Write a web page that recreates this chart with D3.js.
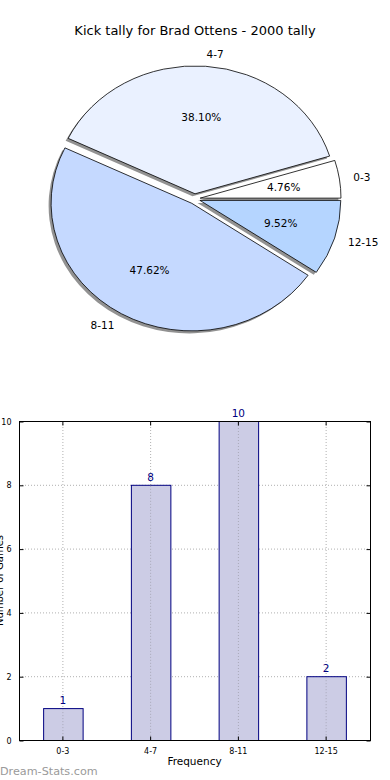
<!DOCTYPE html>
<html>
<head>
<meta charset="utf-8">
<script src="https://cdn.jsdelivr.net/npm/d3@7"></script>
<style>
  html, body { margin: 0; padding: 0; background: #fff; }
  svg { display: block; font-family: "DejaVu Sans", sans-serif; }
</style>
</head>
<body>
<svg id="chart" width="390" height="780"></svg>
<script>
const title = "Kick tally for Brad Ottens - 2000 tally";
const categories = ["0-3", "4-7", "8-11", "12-15"];
const values = [1, 8, 10, 2];
const sliceColors = ["#ffffff", "#eaf1ff", "#c5d9ff", "#b5d5ff"];
const yTicks = [0, 2, 4, 6, 8, 10];
const xLabel = "Frequency";
const yLabel = "Number of Games";
const watermark = "Dream-Stats.com";

(function () {
const svg = d3.select("#chart");

svg.append("text")
  .attr("x", 195).attr("y", 30)
  .attr("text-anchor", "middle").attr("dominant-baseline", "central")
  .attr("font-size", 13).attr("fill", "#000")
  .text(title);

// ---------- Pie (elliptical, matplotlib-like) ----------
const cx = 194.6, cy = 198.9, rx = 140.8, ry = 127.8, explode = 0.04;
const total = d3.sum(values);
const pie = d3.pie().sort(null).startAngle(Math.PI / 2).endAngle(Math.PI / 2 - 2 * Math.PI);
const arcs = pie(values);
const arcGen = d3.arc().innerRadius(0).outerRadius(1);

function midTheta(a) {
  const m = (a.startAngle + a.endAngle) / 2;
  return Math.PI / 2 - m;
}
function offset(a) {
  const t = midTheta(a);
  return [explode * rx * Math.cos(t), -explode * ry * Math.sin(t)];
}

const pieG = svg.append("g");
pieG.selectAll("path.shadow").data(arcs).enter().append("path")
  .attr("class", "shadow")
  .attr("d", arcGen)
  .attr("transform", d => { const o = offset(d); return `translate(${cx + o[0] - 2.5},${cy + o[1] + 2.5}) scale(${rx},${ry})`; })
  .attr("fill", "#7f7f7f").attr("fill-opacity", 0.85);

pieG.selectAll("path.slice").data(arcs).enter().append("path")
  .attr("class", "slice")
  .attr("d", arcGen)
  .attr("transform", d => { const o = offset(d); return `translate(${cx + o[0]},${cy + o[1]}) scale(${rx},${ry})`; })
  .attr("fill", (d, i) => sliceColors[i])
  .attr("stroke", "#000").attr("stroke-width", 0.8)
  .attr("vector-effect", "non-scaling-stroke");

pieG.selectAll("text.lab").data(arcs).enter().append("text")
  .attr("class", "lab")
  .attr("x", d => { const o = offset(d); return cx + o[0] + 1.1 * rx * Math.cos(midTheta(d)); })
  .attr("y", d => { const o = offset(d); return cy + o[1] - 1.1 * ry * Math.sin(midTheta(d)); })
  .attr("text-anchor", d => Math.cos(midTheta(d)) >= 0 ? "start" : "end")
  .attr("dominant-baseline", "central")
  .attr("font-size", 10.5).attr("fill", "#000")
  .text((d, i) => categories[i]);

pieG.selectAll("text.pct").data(arcs).enter().append("text")
  .attr("class", "pct")
  .attr("x", d => { const o = offset(d); return cx + o[0] + 0.6 * rx * Math.cos(midTheta(d)); })
  .attr("y", d => { const o = offset(d); return cy + o[1] - 0.6 * ry * Math.sin(midTheta(d)); })
  .attr("text-anchor", "middle").attr("dominant-baseline", "central")
  .attr("font-size", 10.5).attr("fill", "#000")
  .text(d => (d.value / total * 100).toFixed(2) + "%");

// ---------- Bar chart ----------
const pLeft = 19, pRight = 370, pTop = 421, pBottom = 740;
const x = d3.scaleBand().domain(categories).range([pLeft, pRight]).paddingInner(0.55).paddingOuter(0.275);
const y = d3.scaleLinear().domain([0, 10]).range([pBottom, pTop]);

const bar = svg.append("g");

bar.selectAll("line.hgrid").data(yTicks).enter().append("line")
  .attr("x1", pLeft).attr("x2", pRight)
  .attr("y1", d => y(d) + 0.5).attr("y2", d => y(d) + 0.5)
  .attr("stroke", "#b0b0b0").attr("stroke-width", 1).attr("stroke-dasharray", "1,2");
bar.selectAll("line.vgrid").data(categories).enter().append("line")
  .attr("x1", d => x(d) + x.bandwidth() / 2).attr("x2", d => x(d) + x.bandwidth() / 2)
  .attr("y1", pTop).attr("y2", pBottom)
  .attr("stroke", "#b0b0b0").attr("stroke-width", 1).attr("stroke-dasharray", "1,2");

bar.selectAll("rect.bar").data(values).enter().append("rect")
  .attr("x", (d, i) => x(categories[i]) + 0.5)
  .attr("y", d => y(d) + 0.5)
  .attr("width", x.bandwidth())
  .attr("height", d => y(0) - y(d))
  .attr("fill", "#ccccE5")
  .attr("stroke", "#000080").attr("stroke-width", 1);

bar.selectAll("line.vgrid2").data(categories).enter().append("line")
  .attr("x1", d => x(d) + x.bandwidth() / 2).attr("x2", d => x(d) + x.bandwidth() / 2)
  .attr("y1", d => y(values[categories.indexOf(d)]) + 1).attr("y2", pBottom)
  .attr("stroke", "#a8a8b8").attr("stroke-width", 1).attr("stroke-dasharray", "1,2");

bar.selectAll("text.val").data(values).enter().append("text")
  .attr("x", (d, i) => x(categories[i]) + x.bandwidth() / 2)
  .attr("y", d => y(d) - 4)
  .attr("text-anchor", "middle")
  .attr("font-size", 10.5).attr("fill", "#000080")
  .text(d => d);

bar.append("rect")
  .attr("x", pLeft + 0.5).attr("y", pTop + 0.5)
  .attr("width", pRight - pLeft).attr("height", pBottom - pTop)
  .attr("fill", "none").attr("stroke", "#000").attr("stroke-width", 1);

const yAxisL = d3.axisLeft(y).tickValues(yTicks).tickSize(-4).tickPadding(8).tickFormat(d3.format("d"));
const gy = bar.append("g").attr("transform", `translate(${pLeft + 0.5},0.5)`).call(yAxisL);
gy.select(".domain").remove();
gy.selectAll("text").attr("font-size", 8).attr("font-family", "DejaVu Sans, sans-serif").attr("fill", "#000");
gy.selectAll("line").attr("stroke", "#000");

const yAxisR = d3.axisRight(y).tickValues(yTicks).tickSize(-4).tickFormat("");
const gyr = bar.append("g").attr("transform", `translate(${pRight + 0.5},0.5)`).call(yAxisR);
gyr.select(".domain").remove();
gyr.selectAll("line").attr("stroke", "#000");

const xAxisB = d3.axisBottom(x).tickSize(-4).tickPadding(8);
const gx = bar.append("g").attr("transform", `translate(0,${pBottom + 0.5})`).call(xAxisB);
gx.select(".domain").remove();
gx.selectAll("text").attr("font-size", 8).attr("font-family", "DejaVu Sans, sans-serif").attr("fill", "#000");
gx.selectAll("line").attr("stroke", "#000");

const xAxisT = d3.axisTop(x).tickSize(-4).tickFormat("");
const gxt = bar.append("g").attr("transform", `translate(0,${pTop + 0.5})`).call(xAxisT);
gxt.select(".domain").remove();
gxt.selectAll("line").attr("stroke", "#000");

svg.append("text")
  .attr("x", (pLeft + pRight) / 2).attr("y", 765)
  .attr("text-anchor", "middle").attr("font-size", 10.5).attr("fill", "#000")
  .text(xLabel);

svg.append("text")
  .attr("transform", `translate(2.5,${(pTop + pBottom) / 2}) rotate(-90)`)
  .attr("text-anchor", "middle").attr("font-size", 10).attr("fill", "#000")
  .text(yLabel);

svg.append("text")
  .attr("x", 0).attr("y", 775)
  .attr("font-size", 11.2).attr("fill", "#9a9a9a")
  .attr("font-family", "DejaVu Sans, sans-serif")
  .text(watermark);
})();
</script>
</body>
</html>
